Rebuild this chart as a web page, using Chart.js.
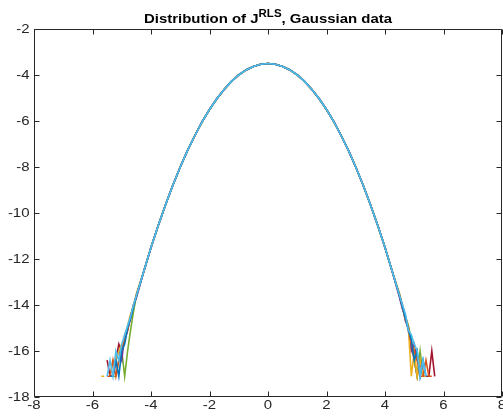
<!DOCTYPE html>
<html>
<head>
<meta charset="utf-8">
<script src="https://cdn.jsdelivr.net/npm/chart.js@4"></script>
<style>
body{margin:0;background:#fff;}
</style>
</head>
<body>
<canvas id="distChart" width="503" height="417"></canvas>
<script>
// values (log density, several runs)
const centerX = [-4.25,-4,-3.75,-3.5,-3.25,-3,-2.75,-2.5,-2.25,-2,-1.75,-1.5,-1.25,-1,-0.75,-0.5,-0.25,0,
  0.25,0.5,0.75,1,1.25,1.5,1.75,2,2.25,2.5,2.75,3,3.25,3.5,3.75,4,4.25];
const centerY = [-12.55,-11.5,-10.53,-9.63,-8.78,-8.0,-7.28,-6.63,-6.03,-5.5,-5.03,-4.63,-4.28,-4.0,-3.78,-3.63,-3.53,-3.5,
  -3.53,-3.63,-3.78,-4.0,-4.28,-4.63,-5.03,-5.5,-6.03,-6.63,-7.28,-8.0,-8.78,-9.63,-10.53,-11.5,-12.55];

const leftX = [-5.7,-5.6,-5.5,-5.4,-5.3,-5.2,-5.1,-5.0,-4.9,-4.8,-4.7,-4.6,-4.5];
const rightX = [4.5,4.6,4.7,4.8,4.9,5.0,5.1,5.2,5.3,5.4,5.5,5.6,5.7];

const leftBlue   = [null,null,null,-17.1,-17.1,-16.4,-17.1,-16.0,-15.7,-15.0,-14.6,-14.1,-13.6];
const leftOrange = [null,null,-17.1,-17.1,-16.4,-17.1,-16.4,-16.0,-15.5,-15.1,-14.5,-14.0,-13.6];
const leftYellow = [-17.1,-17.1,null,-17.1,-16.4,-16.4,-16.0,-15.7,-15.5,-14.9,-14.4,-14.1,-13.5];
const leftPurple = [null,null,null,-17.1,-17.1,-16.4,-16.0,-16.4,-15.3,-15.0,-14.6,-14.0,-13.7];
const leftGreen  = [null,null,null,null,-17.1,-17.1,-16.4,-16.0,-17.1,-16.0,-15.1,-14.3,-13.6];
const leftCyan   = [null,null,-17.1,-16.4,-17.1,-16.0,-16.4,-15.7,-15.3,-14.9,-14.5,-14.0,-13.6];
const leftRed    = [null,null,-16.4,-17.1,-17.1,-16.4,-15.7,-16.0,-15.5,-15.1,-14.5,-14.1,-13.6];

const rightBlue   = [-13.6,-14.1,-14.6,-15.1,-15.5,-16.4,-16.0,-17.1,-16.4,-17.1,null,null,null];
const rightOrange = [-13.6,-14.0,-14.5,-15.0,-15.7,-16.0,-16.4,-17.1,-17.1,-16.4,-17.1,-17.1,null];
const rightYellow = [-13.5,-14.1,-14.6,-15.0,-17.1,-16.0,-17.1,-16.4,-17.1,-17.1,null,null,null];
const rightPurple = [-13.7,-14.2,-14.5,-15.1,-16.0,-15.7,-16.4,-16.4,-17.1,null,null,null,null];
const rightGreen  = [-13.6,-14.1,-14.5,-14.9,-15.5,-16.4,-17.1,-16.0,-17.1,-17.1,null,null,null];
const rightCyan   = [-13.6,-14.0,-14.4,-15.1,-15.3,-15.7,-16.0,-17.1,-16.4,-17.1,null,null,null];
const rightRed    = [-13.6,-14.1,-14.7,-15.0,-15.7,-16.4,-17.1,-16.4,-17.1,-17.1,-17.1,-16.0,-17.1];

const xTicks = [-8,-6,-4,-2,0,2,4,6,8];
const yTicks = [-18,-16,-14,-12,-10,-8,-6,-4,-2];

const runs = [
  {color:'#0072BD', left:leftBlue,   right:rightBlue},
  {color:'#D95319', left:leftOrange, right:rightOrange},
  {color:'#EDB120', left:leftYellow, right:rightYellow},
  {color:'#7E2F8E', left:leftPurple, right:rightPurple},
  {color:'#77AC30', left:leftGreen,  right:rightGreen},
  {color:'#4DBEEE', left:leftCyan,   right:rightCyan},
  {color:'#A2142F', left:leftRed,    right:rightRed}
];

function buildPoints(left, right){
  const xs = leftX.concat(centerX, rightX);
  const ys = left.concat(centerY, right);
  return xs.map((x,i) => ({x:x, y:ys[i]}));
}

const datasets = runs.map((r,i) => ({
  data: buildPoints(r.left, r.right),
  borderColor: r.color,
  borderWidth: 1.6,
  pointRadius: 0,
  fill: false,
  tension: 0,
  spanGaps: false,
  order: r.color === '#4DBEEE' ? 0 : i + 1
}));

const FONT = 'Arial, "Liberation Sans", Helvetica, sans-serif';
const STRETCH = 1.15; // text in the picture is a little wider than plain Arial

function wideText(ctx, txt, x, y, align){
  const w = ctx.measureText(txt).width * STRETCH;
  let left = x;
  if (align === 'right') left = x - w;
  else if (align === 'center') left = x - w/2;
  ctx.save();
  ctx.translate(left, y);
  ctx.scale(STRETCH, 1);
  ctx.textAlign = 'left';
  ctx.fillText(txt, 0, 0);
  ctx.restore();
  return w;
}

// MATLAB style box with inward ticks on all sides, tick labels and the title with superscript
const matlabBox = {
  id: 'matlabBox',
  afterDraw(chart){
    const ctx = chart.ctx, a = chart.chartArea;
    const xs = chart.scales.x, ys = chart.scales.y;
    const L = Math.round(a.left)+0.5, R = Math.round(a.right)-0.5;
    const T = Math.round(a.top)+0.5, B = Math.round(a.bottom)-0.5;
    ctx.save();
    ctx.strokeStyle = '#262626';
    ctx.lineWidth = 1;
    ctx.beginPath();
    ctx.rect(L, T, R-L, B-T);
    xTicks.forEach(v => {
      const p = Math.round(xs.getPixelForValue(v))+0.5;
      ctx.moveTo(p, B); ctx.lineTo(p, B-5);
      ctx.moveTo(p, T); ctx.lineTo(p, T+5);
    });
    yTicks.forEach(v => {
      const p = Math.round(ys.getPixelForValue(v))+0.5;
      ctx.moveTo(L, p); ctx.lineTo(L+5, p);
      ctx.moveTo(R, p); ctx.lineTo(R-5, p);
    });
    ctx.stroke();

    // tick labels
    ctx.fillStyle = '#262626';
    ctx.font = '13px ' + FONT;
    ctx.textBaseline = 'middle';
    yTicks.forEach(v => wideText(ctx, String(v), a.left - 4.5, ys.getPixelForValue(v), 'right'));
    ctx.textBaseline = 'top';
    xTicks.forEach(v => wideText(ctx, String(v), xs.getPixelForValue(v), a.bottom + 2, 'center'));

    // title
    const main1 = 'Distribution of J', sup = 'RLS', main2 = ', Gaussian data';
    ctx.fillStyle = '#000';
    ctx.textBaseline = 'alphabetic';
    ctx.font = 'bold 13px ' + FONT;
    const w1 = ctx.measureText(main1).width * STRETCH, w3 = ctx.measureText(main2).width * STRETCH;
    ctx.font = 'bold 10px ' + FONT;
    const w2 = ctx.measureText(sup).width * STRETCH;
    const x0 = (a.left + a.right)/2 - (w1+w2+w3)/2;
    const base = 23;
    ctx.font = 'bold 13px ' + FONT;
    wideText(ctx, main1, x0, base, 'left');
    ctx.font = 'bold 10px ' + FONT;
    wideText(ctx, sup, x0 + w1, base - 6, 'left');
    ctx.font = 'bold 13px ' + FONT;
    wideText(ctx, main2, x0 + w1 + w2, base, 'left');
    ctx.restore();
  }
};

new Chart(document.getElementById('distChart'), {
  type: 'line',
  data: {datasets: datasets},
  options: {
    responsive: false,
    animation: false,
    layout: {padding: {top: 29, right: 1, left: 0, bottom: 0}},
    plugins: {legend: {display: false}, tooltip: {enabled: false}, title: {display: false}},
    scales: {
      x: {
        type: 'linear', min: -8, max: 8,
        afterBuildTicks: s => { s.ticks = xTicks.map(v => ({value: v})); },
        grid: {display: false, drawTicks: false},
        border: {display: false},
        ticks: {display: false},
        afterFit: s => { s.height = 20; s.paddingLeft = 0; s.paddingRight = 0; }
      },
      y: {
        type: 'linear', min: -18, max: -2,
        afterBuildTicks: s => { s.ticks = yTicks.map(v => ({value: v})); },
        grid: {display: false, drawTicks: false},
        border: {display: false},
        ticks: {display: false},
        afterFit: s => { s.width = 34; s.paddingTop = 0; s.paddingBottom = 0; }
      }
    }
  },
  plugins: [matlabBox]
});
</script>
</body>
</html>
